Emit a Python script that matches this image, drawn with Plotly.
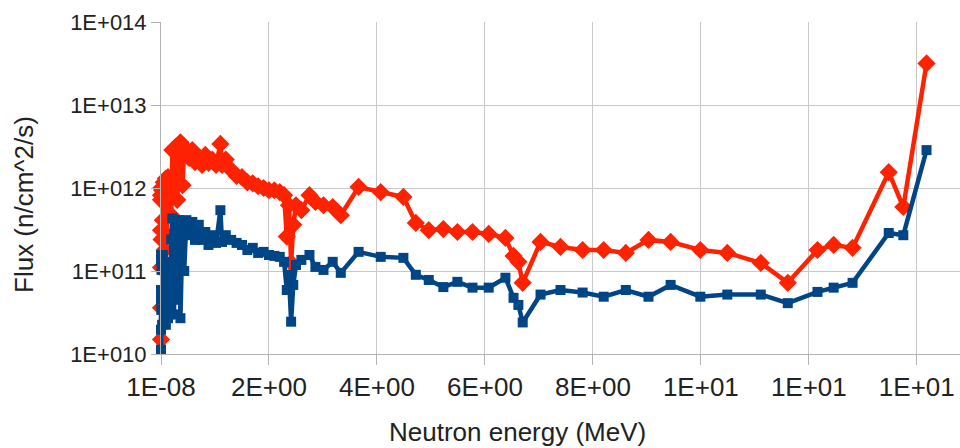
# neutron flux spectrum, two positions, linear energy axis / log flux axis
import plotly.graph_objects as go

# energy grid (MeV)
energy = [1e-8, 1e-7, 1e-6, 1e-5, 1e-4, 1e-3, 0.005, 0.01, 0.02, 0.035,
          0.05, 0.07, 0.09, 0.11, 0.13, 0.15, 0.17, 0.19, 0.21, 0.24,
          0.27, 0.3, 0.33, 0.36, 0.4, 0.43, 0.47, 0.52, 0.58, 0.63,
          0.7, 0.76, 0.82, 0.88, 0.95, 1.02, 1.1, 1.13, 1.2, 1.3,
          1.4, 1.5, 1.6, 1.7, 1.8, 1.9, 2.0, 2.1, 2.2, 2.28,
          2.33, 2.37, 2.41, 2.45, 2.5, 2.6, 2.75, 2.86, 3.01, 3.18,
          3.33, 3.66, 4.07, 4.49, 4.72, 4.96, 5.23, 5.49, 5.77, 6.07,
          6.38, 6.53, 6.62, 6.7, 7.03, 7.4, 7.81, 8.2, 8.61, 9.03,
          9.44, 9.99, 10.49, 11.11, 11.61, 12.16, 12.46, 12.81, 13.48, 13.75,
          14.18]

# flux, red series (n/cm^2/s)
flux_red = [1.5e10, 3.6e10, 7.2e11, 1.1e11, 8.2e11, 3.1e11, 1.0e12, 2.4e11, 9.4e11, 4.1e11,
            1.17e12, 1.8e11, 1.3e12, 2.7e11, 1.35e12, 7.2e11, 1.24e12, 4.7e11, 2.86e12, 1.08e12,
            3.1e12, 7.2e11, 2.5e12, 3.56e12, 1.08e12, 3.1e12, 2.7e12, 2.3e12, 2.86e12, 2.05e12,
            2.3e12, 1.9e12, 2.5e12, 2.0e12, 2.2e12, 1.9e12, 3.4e12, 1.9e12, 2.2e12, 1.65e12,
            1.4e12, 1.35e12, 1.17e12, 1.14e12, 1.05e12, 1.0e12, 9.4e11, 9.4e11, 8.9e11, 8.2e11,
            2.6e11, 6.2e11, 1.25e11, 3.6e11, 6.2e11, 5.4e11, 8.2e11, 6.8e11, 6.2e11, 5.9e11,
            4.7e11, 1.03e12, 8.9e11, 7.8e11, 3.8e11, 3.1e11, 3.2e11, 2.95e11, 2.95e11, 2.8e11,
            2.5e11, 1.52e11, 1.29e11, 7.2e10, 2.24e11, 1.95e11, 1.79e11, 1.79e11, 1.65e11, 2.37e11,
            2.24e11, 1.79e11, 1.65e11, 1.25e11, 7.2e10, 1.79e11, 2.06e11, 1.9e11, 1.55e12, 5.9e11,
            3.17e13]

# flux, blue series (n/cm^2/s)
flux_blue = [1.13e10, 1.96e10, 5.9e10, 1.36e11, 4.5e10, 1.56e11, 3.4e10, 1.03e11, 2.25e10, 1.56e11,
             2.6e10, 1.29e11, 2.25e10, 1.03e11, 2.7e10, 1.2e11, 3.0e10, 2.4e11, 4.3e11, 3.0e10,
             3.9e11, 4.5e10, 4.1e11, 2.7e10, 3.6e11, 1.0e11, 4.1e11, 2.7e11, 3.9e11, 2.37e11,
             3.6e11, 2.37e11, 2.95e11, 2.06e11, 2.7e11, 2.18e11, 5.4e11, 2.24e11, 2.7e11, 2.37e11,
             2.18e11, 2.06e11, 1.79e11, 1.9e11, 1.65e11, 1.7e11, 1.56e11, 1.52e11, 1.48e11, 1.29e11,
             5.9e10, 9.0e10, 2.45e10, 6.8e10, 1.18e11, 1.36e11, 1.56e11, 1.12e11, 1.03e11, 1.29e11,
             9.5e10, 1.7e11, 1.48e11, 1.44e11, 9.0e10, 7.8e10, 6.4e10, 7.4e10, 6.3e10, 6.3e10,
             8.3e10, 4.75e10, 3.9e10, 2.4e10, 5.2e10, 5.9e10, 5.5e10, 4.9e10, 5.9e10, 4.9e10,
             6.8e10, 4.9e10, 5.2e10, 5.2e10, 4.1e10, 5.6e10, 6.3e10, 7.2e10, 2.87e11, 2.7e11,
             2.86e12]

x_tickvals = [1e-8, 2, 4, 6, 8, 10, 12, 14]
x_ticktext = ["1E-08", "2E+00", "4E+00", "6E+00", "8E+00", "1E+01", "1E+01", "1E+01"]
y_tickvals = [1e10, 1e11, 1e12, 1e13, 1e14]
y_ticktext = ["1E+010", "1E+011", "1E+012", "1E+013", "1E+014"]

fig = go.Figure()
fig.add_trace(go.Scatter(x=energy, y=flux_red, mode="lines+markers",
                         line=dict(color="#ff2200", width=4.5),
                         marker=dict(symbol="diamond", size=14, color="#ff2200"),
                         cliponaxis=False, showlegend=False))
fig.add_trace(go.Scatter(x=energy, y=flux_blue, mode="lines+markers",
                         line=dict(color="#004586", width=4.5),
                         marker=dict(symbol="square", size=10, color="#004586"),
                         cliponaxis=False, showlegend=False))

fnt = "Liberation Sans, Arial, sans-serif"
fig.update_layout(
    width=960, height=448,
    margin=dict(l=161, r=0, t=22, b=94),
    paper_bgcolor="white", plot_bgcolor="white",
    font=dict(family=fnt, color="#222222"),
)
fig.update_xaxes(range=[0, 14.8], tickvals=x_tickvals, ticktext=x_ticktext,
                 automargin=False,
                 showgrid=True, gridcolor="#c8c8c8", gridwidth=1,
                 showline=True, linecolor="#b3b3b3", zeroline=False,
                 ticks="outside", ticklen=10, tickcolor="#b3b3b3",
                 tickfont=dict(size=26, family=fnt, color="#222222"))
fig.update_yaxes(type="log", range=[10, 14], tickvals=y_tickvals, ticktext=y_ticktext,
                 automargin=False,
                 showgrid=True, gridcolor="#c8c8c8", gridwidth=1,
                 showline=True, linecolor="#b3b3b3", zeroline=False,
                 ticks="outside", ticklen=9, tickcolor="#b3b3b3",
                 tickfont=dict(size=22, family=fnt, color="#222222"))

fig.add_annotation(text="Neutron energy (MeV)", xref="paper", yref="paper",
                   x=(517 - 161) / 799, y=-(432 - 354.3) / 332.6,
                   xanchor="center", yanchor="middle", showarrow=False,
                   font=dict(size=26, family=fnt, color="#222222"))
fig.add_annotation(text="Flux (n/cm^2/s)", xref="paper", yref="paper",
                   x=-(161 - 24) / 799, y=(354.3 - 205) / 332.6,
                   xanchor="center", yanchor="middle", textangle=-90, showarrow=False,
                   font=dict(size=26, family=fnt, color="#222222"))

# drop the default 8px body margin so the figure sits at the page corner
fig.write_html("out.html", config={"displayModeBar": False},
               post_script="document.body.style.margin='0';")
